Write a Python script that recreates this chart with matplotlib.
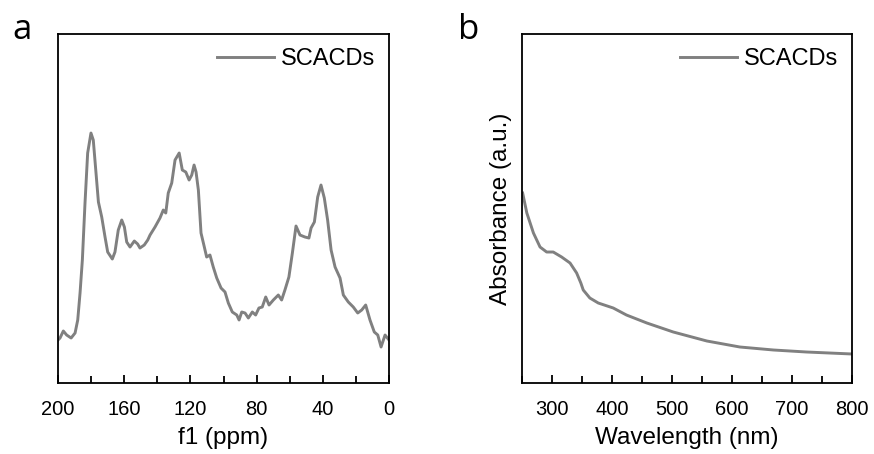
import numpy as np
import matplotlib
matplotlib.use("Agg")
import matplotlib.pyplot as plt
from matplotlib.ticker import MultipleLocator

plt.rcParams['font.family'] = ['Liberation Sans', 'DejaVu Sans']

# 13C NMR spectrum (a)
nmr_ppm = [200, 198.8, 196.8, 194.8, 192.1, 189.7, 188.1, 186.7, 185.3, 183.7,
           182.1, 180.1, 178.7, 177.2, 175.6, 173.6, 171.6, 170.0, 167.2, 165.6,
           163.6, 161.5, 159.9, 158.5, 156.5, 153.9, 151.9, 150.5, 147.9, 145.8,
           144.4, 141.4, 138.4, 136.4, 134.9, 133.4, 131.3, 129.3, 126.8, 124.9,
           122.8, 120.8, 119.2, 117.8, 116.6, 115.2, 113.6, 111.6, 110.2, 108.2,
           106.2, 104.1, 101.5, 99.1, 97.1, 94.7, 92.0, 90.6, 89.0, 87.0,
           85.0, 82.6, 80.6, 78.6, 76.6, 74.5, 72.5, 69.9, 66.9, 64.9,
           62.9, 60.5, 58.4, 56.2, 53.8, 50.8, 48.4, 47.1, 45.1, 43.1,
           41.1, 39.1, 37.1, 35.0, 32.6, 29.6, 27.6, 24.6, 21.6, 18.9,
           16.5, 14.1, 11.5, 8.9, 6.8, 4.8, 2.4, 0]
nmr_int = [43, 45, 52, 48, 45, 50, 63, 90, 123, 180,
           230, 250, 243, 213, 181, 166, 146, 131, 124, 131,
           153, 163, 156, 141, 136, 142, 139, 135, 138, 143,
           148, 156, 165, 173, 170, 190, 200, 223, 230, 213,
           211, 203, 208, 218, 211, 193, 150, 136, 126, 128,
           116, 105, 95, 91, 80, 71, 68, 63, 71, 70,
           65, 71, 68, 75, 76, 86, 78, 83, 88, 83,
           93, 106, 130, 157, 148, 146, 145, 155, 161, 186,
           198, 185, 163, 133, 116, 105, 88, 81, 76, 70,
           73, 78, 63, 51, 48, 36, 48, 43]

# UV-vis absorbance (b)
uv_wl = [251, 258, 269, 280, 291, 302, 316, 330, 341, 348, 352, 363, 377,
         402, 424, 458, 502, 558, 613, 669, 724, 800]
uv_abs = [190, 170, 150, 136, 131, 131, 126, 120, 110, 100, 93, 85, 80,
          75, 68, 60, 51, 42, 36, 33, 31, 29]

line_color = '#808080'

fig = plt.figure(figsize=(8.74, 4.54), dpi=100)
ax1 = fig.add_axes([0.0664, 0.1564, 0.3787, 0.7686])
ax2 = fig.add_axes([0.5973, 0.1564, 0.3776, 0.7686])

ax1.plot(nmr_ppm, nmr_int, color=line_color, lw=2.1, label='SCACDs')
ax1.set_xlim(200, 0)
ax1.set_ylim(0, 349)
ax1.xaxis.set_major_locator(MultipleLocator(40))
ax1.xaxis.set_minor_locator(MultipleLocator(20))
ax1.set_xlabel('f1 (ppm)', fontsize=17.5, labelpad=6)

ax2.plot(uv_wl, uv_abs, color=line_color, lw=2.1, label='SCACDs')
ax2.set_xlim(250, 800)
ax2.set_ylim(0, 349)
ax2.xaxis.set_major_locator(MultipleLocator(100))
ax2.xaxis.set_minor_locator(MultipleLocator(50))
ax2.set_xlabel('Wavelength (nm)', fontsize=17.5, labelpad=6)
ax2.set_ylabel('Absorbance (a.u.)', fontsize=17.5, labelpad=7)

for ax in (ax1, ax2):
    for s in ax.spines.values():
        s.set_linewidth(1.3)
    ax.set_yticks([])
    ax.tick_params(axis='x', which='major', direction='in', length=6, width=1.3,
                   labelsize=14.5, pad=12)
    ax.tick_params(axis='x', which='minor', direction='in', length=5, width=1.3)
    ax.legend(loc='upper right', frameon=False, fontsize=17, handlelength=2.4,
              handletextpad=0.3, borderaxespad=0.2)

fig.text(0.0137, 0.914, 'a', fontsize=25, family='Open Sans', va='baseline')
fig.text(0.524, 0.914, 'b', fontsize=25, family='Open Sans', va='baseline')

fig.savefig('out.png', dpi=100)
